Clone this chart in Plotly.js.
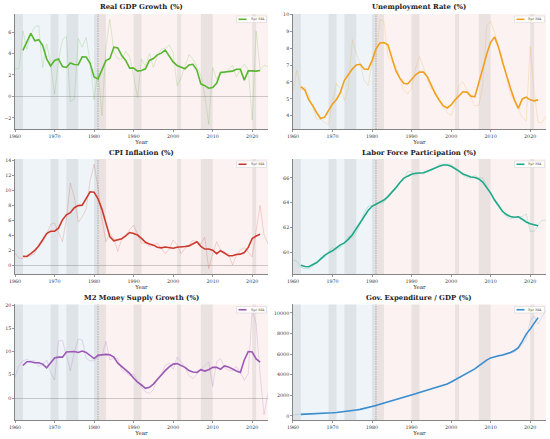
<!DOCTYPE html>
<html><head><meta charset="utf-8">
<script src="https://cdn.plot.ly/plotly-3.0.1.min.js"></script>
<style>html,body{margin:0;padding:0;background:#fff}#chart{width:550px;height:439px}</style>
</head><body><div id="chart"></div>
<script>
const years = [1960,1961,1962,1963,1964,1965,1966,1967,1968,1969,
  1970,1971,1972,1973,1974,1975,1976,1977,1978,1979,
  1980,1981,1982,1983,1984,1985,1986,1987,1988,1989,
  1990,1991,1992,1993,1994,1995,1996,1997,1998,1999,
  2000,2001,2002,2003,2004,2005,2006,2007,2008,2009,
  2010,2011,2012,2013,2014,2015,2016,2017,2018,2019,
  2020,2021,2022,2023,2024];
const maYears = years.slice(2, 63); // 1962..2022

const gdpRaw = [2.6,2.6,6.1,4.4,5.8,6.5,6.6,2.7,4.9,3.1,
  0.2,3.3,5.3,5.6,-0.5,-0.2,5.4,4.6,5.5,3.2,
  -0.3,2.5,-1.8,4.6,7.2,4.2,3.5,3.5,4.2,3.7,
  1.9,-0.1,3.5,2.8,4.0,2.7,3.8,4.4,4.5,4.8,
  4.1,1.0,1.7,2.8,3.9,3.5,2.8,2.0,0.1,-2.6,
  2.7,1.6,2.3,2.1,2.5,2.9,1.8,2.5,3.0,2.5,
  -2.2,6.1,2.5,2.9,2.8];
const gdpMA = [4.30,5.08,5.88,5.20,5.30,4.76,3.50,2.84,3.36,3.50,
  2.78,2.70,3.12,2.98,2.96,3.70,3.68,3.10,1.82,1.64,
  2.44,3.34,3.54,4.60,4.52,3.82,3.36,2.64,2.64,2.36,
  2.42,2.58,3.36,3.54,3.88,4.04,4.32,3.76,3.22,2.88,
  2.70,2.58,2.94,3.00,2.46,1.16,1.00,0.76,0.82,1.22,
  2.24,2.28,2.32,2.36,2.54,2.54,1.52,2.38,2.38,2.36,
  2.42];

const unempRaw = [5.5,6.7,5.5,5.7,5.2,4.5,3.8,3.8,3.6,3.5,
  4.9,5.9,5.6,4.9,5.6,8.5,7.7,7.1,6.1,5.8,
  7.1,7.6,9.7,9.6,7.5,7.2,7.0,6.2,5.5,5.3,
  5.6,6.8,7.5,6.9,6.1,5.6,5.4,4.9,4.5,4.2,
  4.0,4.7,5.8,6.0,5.5,5.1,4.6,4.6,5.8,9.3,
  9.6,8.9,8.1,7.4,6.2,5.3,4.9,4.4,3.9,3.7,
  8.1,5.4,3.6,3.6,4.0];
const unempMA = [5.72,5.52,4.94,4.60,4.18,3.84,3.92,4.34,4.70,4.96,
  5.38,6.10,6.46,6.76,7.00,7.04,6.76,6.74,7.26,7.96,
  8.30,8.32,8.20,7.50,6.68,6.24,5.92,5.88,6.14,6.42,
  6.58,6.58,6.30,5.78,5.30,4.92,4.60,4.46,4.64,4.94,
  5.20,5.42,5.40,5.16,5.12,5.88,6.78,7.64,8.34,8.66,
  8.04,7.18,6.38,5.64,4.94,4.44,5.00,5.10,4.94,4.88,
  4.94];

const cpiRaw = [1.7,1.0,1.0,1.3,1.3,1.6,2.9,3.1,4.2,5.5,
  5.7,4.4,3.2,6.2,11.0,9.1,5.8,6.5,7.6,11.3,
  13.5,10.3,6.2,3.2,4.3,3.6,1.9,3.6,4.1,4.8,
  5.4,4.2,3.0,3.0,2.6,2.8,3.0,2.3,1.6,2.2,
  3.4,2.8,1.6,2.3,2.7,3.4,3.2,2.9,3.8,-0.4,
  1.6,3.2,2.1,1.5,1.6,0.1,1.3,2.1,2.4,1.8,
  1.2,4.7,8.0,4.1,2.9];
const cpiMA = [1.26,1.24,1.62,2.04,2.62,3.46,4.28,4.58,4.60,5.00,
  6.10,6.78,7.06,7.72,8.00,8.06,8.94,9.84,9.78,8.90,
  7.50,5.52,3.84,3.32,3.50,3.60,3.96,4.42,4.30,4.08,
  3.64,3.12,2.88,2.74,2.46,2.38,2.50,2.46,2.32,2.46,
  2.56,2.56,2.64,2.90,3.20,2.58,2.22,2.22,2.06,1.60,
  2.00,1.70,1.32,1.32,1.50,1.54,1.76,2.44,3.62,3.96,
  4.18];

const lfprRaw = [59.4,59.3,58.8,58.7,58.7,58.9,59.2,59.6,59.6,60.1,
  60.4,60.2,60.4,60.8,61.3,61.2,61.6,62.3,63.2,63.7,
  63.8,63.9,64.0,64.0,64.4,64.8,65.3,65.6,65.9,66.5,
  66.5,66.2,66.4,66.3,66.6,66.6,66.8,67.1,67.1,67.1,
  67.1,66.8,66.6,66.2,66.0,66.0,66.2,66.0,66.0,65.4,
  64.7,64.1,63.7,63.2,62.9,62.7,62.8,62.9,62.9,63.1,
  61.7,61.7,62.2,62.6,62.6];
const lfprMA = [58.98,58.88,58.86,59.02,59.20,59.48,59.78,59.98,60.14,60.38,
  60.62,60.78,61.06,61.44,61.92,62.40,62.92,63.38,63.72,63.88,
  64.02,64.22,64.50,64.82,65.20,65.62,65.96,66.14,66.30,66.38,
  66.40,66.42,66.54,66.68,66.84,66.94,67.04,67.04,66.94,66.76,
  66.54,66.32,66.20,66.08,66.04,65.92,65.66,65.24,64.78,64.22,
  63.72,63.32,63.06,62.90,62.84,62.88,62.68,62.46,62.32,62.26,
  62.16];

const m2Raw = [4.5,7.0,8.0,8.3,8.0,8.0,6.8,7.2,8.2,5.5,
  3.9,12.3,12.4,8.8,5.9,9.8,12.7,12.5,8.5,8.0,
  8.0,8.8,9.2,12.2,8.2,8.6,8.5,6.0,5.5,4.8,
  5.2,3.7,2.3,1.3,1.0,1.8,4.2,5.0,7.0,7.5,
  6.2,8.8,7.8,6.5,4.8,4.2,5.0,6.0,7.0,7.8,
  2.5,7.8,8.5,6.5,6.0,6.0,6.8,5.5,3.8,5.2,
  19.0,16.0,5.0,-3.6,1.2];
const m2MA = [7.0,7.8,7.8,7.6,7.6,7.3,6.5,7.6,8.6,8.8,
  8.8,9.9,10.0,10.0,9.8,10.1,9.8,9.2,8.5,9.2,
  9.3,9.4,9.3,8.8,7.5,6.8,6.1,5.3,4.3,3.4,
  2.8,2.1,2.3,3.0,4.0,5.0,5.9,6.7,7.3,7.4,
  7.0,6.6,5.9,5.6,5.5,6.1,5.8,6.1,6.6,6.6,
  6.2,6.9,6.7,6.2,5.8,5.5,8.2,10.0,9.9,8.4,
  7.7];

const govRaw = [120,135,150,160,170,185,205,230,260,285,
  310,340,370,405,460,530,580,640,720,820,
  940,1050,1160,1260,1360,1460,1560,1660,1770,1890,
  2020,2160,2290,2400,2500,2600,2700,2820,2950,3100,
  3300,3500,3700,3900,4100,4300,4550,4850,5150,5450,
  5650,5750,5800,5850,5950,6050,6200,6500,6900,7400,
  9200,9700,8900,9600,10300];
const govMA = [160,170,185,200,220,240,260,285,310,340,
  375,415,460,520,580,640,720,810,910,1020,
  1130,1240,1350,1450,1550,1650,1760,1880,2010,2150,
  2280,2400,2510,2610,2710,2830,2960,3110,3300,3500,
  3700,3900,4100,4320,4570,4860,5150,5420,5630,5760,
  5840,5910,6010,6150,6350,6620,7240,7940,8420,8960,
  9540];

const panelTitles = ["Real GDP Growth (%)","Unemployment Rate (%)","CPI Inflation (%)",
  "Labor Force Participation (%)","M2 Money Supply Growth (%)","Gov. Expenditure / GDP (%)"];
const rawSeries = [gdpRaw, unempRaw, cpiRaw, lfprRaw, m2Raw, govRaw];
const maSeries = [gdpMA, unempMA, cpiMA, lfprMA, m2MA, govMA];
const maName = "5yr MA";
const recessionStart = [1960,1969,1973,1980,1981,1990,2001,2007,2020];
const recessionEnd   = [1962,1971,1976,1981,1983,1992,2002,2010,2021];
const eraSplit = 1981;
const xStart = 1960, xEnd = 2024;
const xTicks = [1960,1970,1980,1990,2000,2010,2020];

// styling
const lineColors = ['#58b530','#f0a020','#cc3a2e','#1fa888','#9b59b6','#3a8ed0'];
const yRanges = [[-3.09,7.69],[3.19,10.01],[-1.095,14.195],[58.28,67.52],[-4.73,20.13],[-389,10809]];
const yDtick = [2,1,2,2,5,2000];
const showZero = [true,false,true,false,true,false];
const colDom = [[0.0273,0.4873],[0.5327,0.9927]];
const rowDom = [[0.705,0.968],[0.3759,0.6378],[0.0433,0.3064]];
const titleY = [0.984,0.651,0.321];
const serif = '"DejaVu Serif", "Liberation Serif", serif';
const W = 550, H = 439;

const data = [];
const layout = {
  width:W, height:H, margin:{l:0,r:0,t:0,b:0},
  paper_bgcolor:'#fff', plot_bgcolor:'#fff',
  font:{family:serif, color:'#333'},
  shapes:[], annotations:[], showlegend:false
};

for (let i=0;i<6;i++){
  const n = i+1, sfx = n===1?'':String(n);
  const col = i%2, row = Math.floor(i/2);
  const xa = 'x'+sfx, ya = 'y'+sfx;
  data.push({x:years, y:rawSeries[i], xaxis:xa, yaxis:ya, type:'scatter', mode:'lines',
    line:{color:lineColors[i], width:0.8}, opacity:0.25, showlegend:false, hoverinfo:'skip'});
  data.push({x:maYears, y:maSeries[i], xaxis:xa, yaxis:ya, type:'scatter', mode:'lines',
    name:maName, line:{color:lineColors[i], width:1.6}});
  layout['xaxis'+sfx] = {domain:colDom[col], anchor:ya, range:[xStart,xEnd],
    tickvals:xTicks, ticks:'outside', ticklen:2, tickwidth:0.6, tickcolor:'#555',
    showline:true, linecolor:'#666', linewidth:0.8, showgrid:false, zeroline:false,
    tickfont:{size:4.8, family:serif, color:'#333'},
    title:{text:'Year', font:{size:5.6, family:serif, color:'#333'}, standoff:1}};
  layout['yaxis'+sfx] = {domain:rowDom[row], anchor:xa, range:yRanges[i], dtick:yDtick[i],
    tickformat:'d', exponentformat:'none',
    ticks:'outside', ticklen:2, tickwidth:0.6, tickcolor:'#555',
    showline:true, linecolor:'#666', linewidth:0.8, showgrid:false,
    zeroline:showZero[i], zerolinecolor:'rgba(120,120,120,0.45)', zerolinewidth:0.8,
    tickfont:{size:4.8, family:serif, color:'#333'}};
  // era shading
  layout.shapes.push({type:'rect', xref:xa, yref:ya+' domain', x0:xStart, x1:eraSplit, y0:0, y1:1,
    fillcolor:'rgba(70,130,180,0.09)', line:{width:0}, layer:'below'});
  layout.shapes.push({type:'rect', xref:xa, yref:ya+' domain', x0:eraSplit, x1:xEnd, y0:0, y1:1,
    fillcolor:'rgba(220,80,70,0.075)', line:{width:0}, layer:'below'});
  for (let k=0;k<recessionStart.length;k++){
    layout.shapes.push({type:'rect', xref:xa, yref:ya+' domain', x0:recessionStart[k], x1:recessionEnd[k], y0:0, y1:1,
      fillcolor:'rgba(128,128,128,0.14)', line:{width:0}, layer:'below'});
  }
  layout.shapes.push({type:'line', xref:xa, yref:ya+' domain', x0:eraSplit, x1:eraSplit, y0:0, y1:1,
    line:{color:'#888', width:0.6, dash:'1.5px,1px'}, layer:'below'});
  layout.annotations.push({text:'<b>'+panelTitles[i]+'</b>', xref:'paper', yref:'paper',
    x:(colDom[col][0]+colDom[col][1])/2, y:titleY[row], xanchor:'center', yanchor:'middle',
    showarrow:false, font:{size:6.9, family:serif, color:'#222'}});
  // compact legend box (top-right, inside the axes)
  const lx1 = colDom[col][1] - 1.5/W, lx0 = lx1 - 30/W;
  const ly1 = rowDom[row][1] - 2/H, ly0 = ly1 - 6.5/H, lym = (ly0+ly1)/2;
  layout.shapes.push({type:'rect', xref:'paper', yref:'paper', x0:lx0, x1:lx1, y0:ly0, y1:ly1,
    fillcolor:'rgba(255,255,255,0.85)', line:{color:'#d0d0d0', width:0.5}, layer:'above'});
  layout.shapes.push({type:'line', xref:'paper', yref:'paper', x0:lx0+2/W, x1:lx0+10/W, y0:lym, y1:lym,
    line:{color:lineColors[i], width:1.6}, layer:'above'});
  layout.annotations.push({text:maName, xref:'paper', yref:'paper', x:lx0+12/W, y:lym,
    xanchor:'left', yanchor:'middle', showarrow:false,
    font:{size:3.6, family:serif, color:'#333'}});
}

Plotly.newPlot('chart', data, layout, {staticPlot:true, displayModeBar:false});
</script></body></html>
